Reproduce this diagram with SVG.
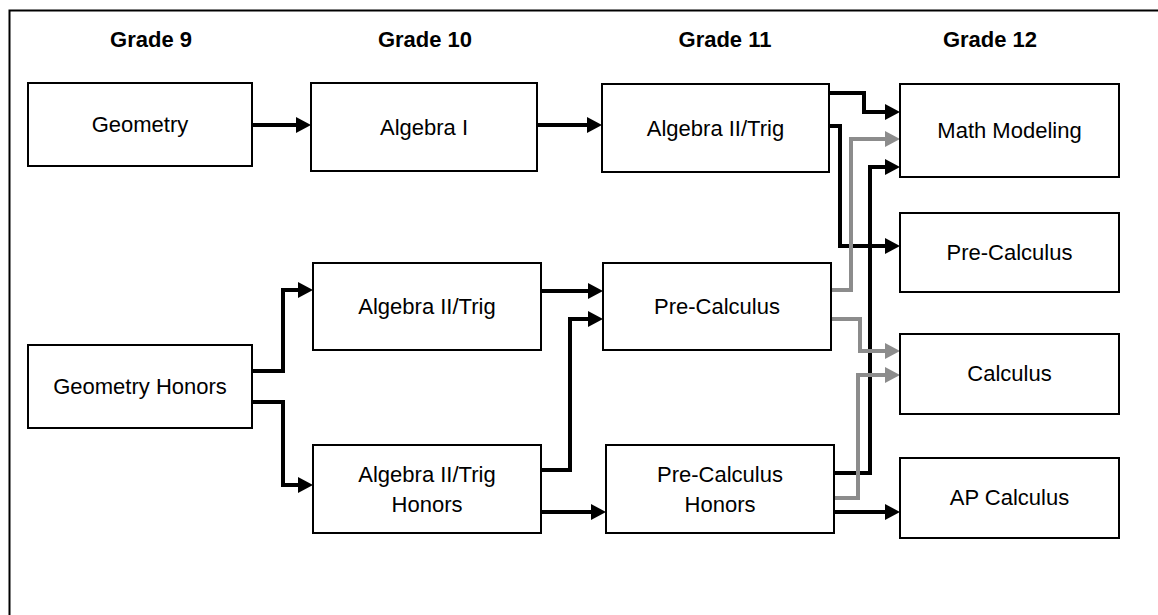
<svg xmlns="http://www.w3.org/2000/svg" width="1158" height="615" viewBox="0 0 1158 615">
  <style>
    .box { fill: #ffffff; stroke: #000000; stroke-width: 2; }
    .lbl { font-family: "Liberation Sans", Arial, sans-serif; font-size: 22px; fill: #000000; text-anchor: middle; }
    .hdr { font-family: "Liberation Sans", Arial, sans-serif; font-size: 22px; font-weight: bold; fill: #000000; text-anchor: middle; }
    .c { fill: none; stroke: #000000; stroke-width: 4; stroke-linejoin: miter; }
    .g { fill: none; stroke: #8c8c8c; stroke-width: 4; stroke-linejoin: miter; }
  </style>
  <defs>
    <marker id="ab" markerUnits="userSpaceOnUse" viewBox="0 0 15 16" markerWidth="15" markerHeight="16" refX="1" refY="8" orient="auto">
      <path d="M0,0 L15,8 L0,16 Z" fill="#000000"/>
    </marker>
    <marker id="ag" markerUnits="userSpaceOnUse" viewBox="0 0 15 16" markerWidth="15" markerHeight="16" refX="1" refY="8" orient="auto">
      <path d="M0,0 L15,8 L0,16 Z" fill="#8c8c8c"/>
    </marker>
  </defs>
  <rect x="0" y="0" width="1158" height="615" fill="#ffffff"/>
  <path d="M9.5,615 V10.5 H1158" fill="none" stroke="#000000" stroke-width="2"/>

  <g id="headers">
    <text class="hdr" x="151" y="47">Grade 9</text>
    <text class="hdr" x="425" y="47">Grade 10</text>
    <text class="hdr" x="725" y="47">Grade 11</text>
    <text class="hdr" x="990" y="47">Grade 12</text>
  </g>

  <g id="connectors">
    <path class="c" d="M252,125 H297" marker-end="url(#ab)"/>
    <path class="c" d="M537,125 H588" marker-end="url(#ab)"/>
    <path class="c" d="M829,93 H864 V112 H886" marker-end="url(#ab)"/>
    <path class="c" d="M829,126 H840 V246 H886" marker-end="url(#ab)"/>
    <path class="g" d="M831,290 H851 V139 H886" marker-end="url(#ag)"/>
    <path class="c" d="M834,473 H870 V167 H886" marker-end="url(#ab)"/>
    <path class="g" d="M831,319 H860 V351 H886" marker-end="url(#ag)"/>
    <path class="g" d="M834,498 H858 V375 H886" marker-end="url(#ag)"/>
    <path class="c" d="M834,512 H886" marker-end="url(#ab)"/>
    <path class="c" d="M252,371 H283 V290 H299" marker-end="url(#ab)"/>
    <path class="c" d="M252,402 H283 V485 H299" marker-end="url(#ab)"/>
    <path class="c" d="M541,291 H589" marker-end="url(#ab)"/>
    <path class="c" d="M541,470 H570 V319 H589" marker-end="url(#ab)"/>
    <path class="c" d="M541,512 H592" marker-end="url(#ab)"/>
  </g>

  <g id="geometry">
    <rect class="box" x="28" y="83" width="224" height="83"/>
    <text class="lbl" x="140" y="132">Geometry</text>
  </g>
  <g id="algebra1">
    <rect class="box" x="311" y="83" width="226" height="88"/>
    <text class="lbl" x="424" y="135">Algebra I</text>
  </g>
  <g id="algebra2trig11">
    <rect class="box" x="602" y="84" width="227" height="88"/>
    <text class="lbl" x="715.5" y="136">Algebra II/Trig</text>
  </g>
  <g id="mathmodeling">
    <rect class="box" x="900" y="84" width="219" height="93"/>
    <text class="lbl" x="1009.5" y="138">Math Modeling</text>
  </g>
  <g id="precalc12">
    <rect class="box" x="900" y="213" width="219" height="79"/>
    <text class="lbl" x="1009.5" y="260">Pre-Calculus</text>
  </g>
  <g id="calculus">
    <rect class="box" x="900" y="334" width="219" height="80"/>
    <text class="lbl" x="1009.5" y="381">Calculus</text>
  </g>
  <g id="apcalculus">
    <rect class="box" x="900" y="458" width="219" height="80"/>
    <text class="lbl" x="1009.5" y="505">AP Calculus</text>
  </g>
  <g id="geometryhonors">
    <rect class="box" x="28" y="345" width="224" height="83"/>
    <text class="lbl" x="140" y="394">Geometry Honors</text>
  </g>
  <g id="algebra2trig10">
    <rect class="box" x="313" y="263" width="228" height="87"/>
    <text class="lbl" x="427" y="314">Algebra II/Trig</text>
  </g>
  <g id="algebra2trighonors">
    <rect class="box" x="313" y="445" width="228" height="88"/>
    <text class="lbl" x="427" y="482">Algebra II/Trig</text>
    <text class="lbl" x="427" y="512">Honors</text>
  </g>
  <g id="precalc11">
    <rect class="box" x="603" y="263" width="228" height="87"/>
    <text class="lbl" x="717" y="314">Pre-Calculus</text>
  </g>
  <g id="precalchonors">
    <rect class="box" x="606" y="445" width="228" height="88"/>
    <text class="lbl" x="720" y="482">Pre-Calculus</text>
    <text class="lbl" x="720" y="512">Honors</text>
  </g>
</svg>
